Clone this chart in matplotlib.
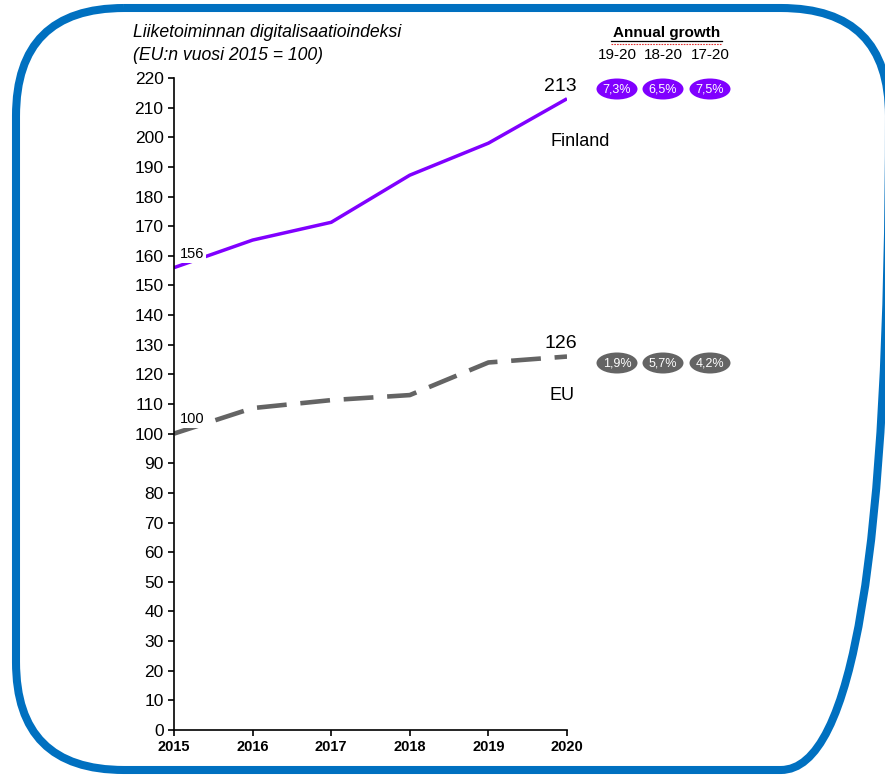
import matplotlib.pyplot as plt
from matplotlib.patches import FancyBboxPatch, Ellipse

plt.rcParams['font.family'] = ['Liberation Sans', 'DejaVu Sans']

years = [2015, 2016, 2017, 2018, 2019, 2020]
finland = [156, 165.3, 171.3, 187.2, 198, 213]
eu = [100, 108.6, 111.3, 113, 124, 126]
growth_periods = ['19-20', '18-20', '17-20']
finland_growth = ['7,3%', '6,5%', '7,5%']
eu_growth = ['1,9%', '5,7%', '4,2%']

purple = '#8000FF'
grey = '#646464'

fig = plt.figure(figsize=(8.85, 7.75), dpi=100)

# rounded blue frame, drawn in pixel coords so the corners stay circular
bg = fig.add_axes([0, 0, 1, 1])
bg.set_xlim(0, 885)
bg.set_ylim(775, 0)
bg.axis('off')
bg.add_patch(FancyBboxPatch((16, 8), 873, 762,
                            boxstyle='round,pad=0,rounding_size=108',
                            fill=False, edgecolor='#0070C0', linewidth=5.8,
                            clip_on=False))

ax = fig.add_axes([0.1966, 0.0581, 0.4441, 0.8413])
ax.patch.set_alpha(0)
ax.plot(years, finland, color=purple, linewidth=2.5, solid_capstyle='butt')
ax.plot(years, eu, color=grey, linewidth=3.3, dashes=(6.5, 3), solid_capstyle='butt')

ax.set_xlim(2015, 2020)
ax.set_ylim(0, 220)
ax.set_yticks(range(0, 221, 10))
ax.set_xticks(years)
ax.tick_params(axis='y', labelsize=12.5, direction='out', length=4, width=1.2)
ax.tick_params(axis='x', labelsize=10.5, direction='out', length=4, width=1.2)
for lab in ax.get_xticklabels():
    lab.set_fontweight('bold')
for side in ['top', 'right']:
    ax.spines[side].set_visible(False)
ax.spines['left'].set_linewidth(1.2)
ax.spines['bottom'].set_linewidth(1.2)

# start value labels (white box breaks the line like in the source)
ax.text(2015.07, finland[0] + 4.6, '156', fontsize=10.5, ha='left', va='center',
        bbox=dict(facecolor='white', edgecolor='none', pad=1.5), zorder=5)
ax.text(2015.07, eu[0] + 5, '100', fontsize=10.5, ha='left', va='center',
        bbox=dict(facecolor='white', edgecolor='none', pad=1.5), zorder=5)

# end value labels
ax.text(2019.92, 217, str(finland[-1]), fontsize=14, ha='center', va='center')
ax.text(2019.92, 130.5, str(eu[-1]), fontsize=14, ha='center', va='center')
ax.text(2020.17, 198.4, 'Finland', fontsize=13, ha='center', va='center')
ax.text(2019.94, 112.7, 'EU', fontsize=13, ha='center', va='center')

# title
fig.text(0.15, 0.958, 'Liiketoiminnan digitalisaatioindeksi', fontsize=12.7,
         style='italic', ha='left', va='center')
fig.text(0.15, 0.928, '(EU:n vuosi 2015 = 100)', fontsize=12.7,
         style='italic', ha='left', va='center')

# annual growth header
fig.text(0.753, 0.958, 'Annual growth', fontsize=11, fontweight='bold',
         ha='center', va='center')
bg.plot([611, 722], [41, 41], color='black', linewidth=0.9)
bg.plot([611, 722], [44, 44], color='#E03030', linewidth=0.8, linestyle=(0, (1.5, 1)))
px = [617, 663, 710]
for x, p in zip(px, growth_periods):
    bg.text(x, 55, p, fontsize=11, ha='center', va='center')

for row_y, vals, col in [(89, finland_growth, purple), (363, eu_growth, grey)]:
    for x, v in zip(px, vals):
        bg.add_patch(Ellipse((x, row_y), 41, 21, facecolor=col, edgecolor='none'))
        bg.text(x, row_y, v, fontsize=9, color='white', ha='center', va='center')

fig.savefig('out.png', dpi=100)
